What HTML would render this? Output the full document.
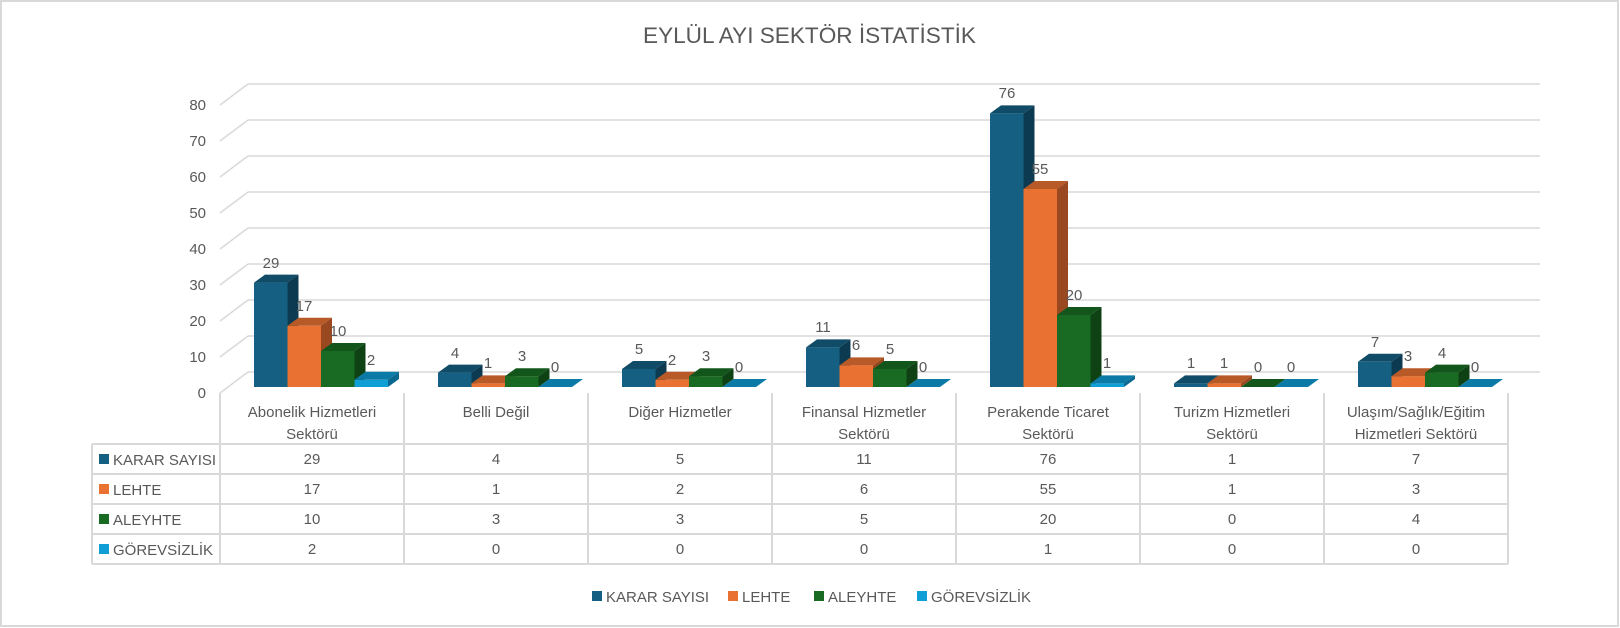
<!DOCTYPE html>
<html><head><meta charset="utf-8"><style>
html,body{margin:0;padding:0;background:#fff;}
svg{display:block;}
text{font-family:"Liberation Sans",sans-serif;fill:#595959;}
</style></head><body>
<svg width="1620" height="628" viewBox="0 0 1620 628" xmlns="http://www.w3.org/2000/svg">
<rect x="1" y="1" width="1617" height="625" fill="#fff" stroke="#d9d9d9" stroke-width="2"/>
<text x="643" y="43" font-size="22" textLength="333" lengthAdjust="spacingAndGlyphs">EYLÜL AYI SEKTÖR İSTATİSTİK</text>
<g stroke="#d9d9d9" stroke-width="1.5" fill="none">
<path d="M248 84H1540M248 120H1540M248 156H1540M248 192H1540M248 228H1540M248 264H1540M248 300H1540M248 336H1540M248 372H1540"/>
<path d="M220 105L248 84M220 141L248 120M220 177L248 156M220 213L248 192M220 249L248 228M220 285L248 264M220 321L248 300M220 357L248 336M220 393L248 372"/>
</g>
<g font-size="15" text-anchor="end">
<text x="206" y="110">80</text><text x="206" y="146">70</text><text x="206" y="182">60</text><text x="206" y="218">50</text><text x="206" y="254">40</text><text x="206" y="290">30</text><text x="206" y="326">20</text><text x="206" y="362">10</text><text x="206" y="398">0</text>
</g>
<!-- bars -->
<g>
<!-- cat0 -->
<g transform="translate(254,282.6)"><rect width="33.5" height="104.4" fill="#156082"/><polygon points="0,0 11,-8 44.5,-8 33.5,0" fill="#104b67"/><polygon points="33.5,0 44.5,-8 44.5,96.4 33.5,104.4" fill="#0c3b51"/></g>
<g transform="translate(287.5,325.8)"><rect width="33.5" height="61.2" fill="#E97132"/><polygon points="0,0 11,-8 44.5,-8 33.5,0" fill="#b85a27"/><polygon points="33.5,0 44.5,-8 44.5,53.2 33.5,61.2" fill="#9a4820"/></g>
<g transform="translate(321,351)"><rect width="33.5" height="36" fill="#196B24"/><polygon points="0,0 11,-8 44.5,-8 33.5,0" fill="#13561c"/><polygon points="33.5,0 44.5,-8 44.5,28 33.5,36" fill="#0e4215"/></g>
<g transform="translate(354.5,379.8)"><rect width="33.5" height="7.2" fill="#0F9ED5"/><polygon points="0,0 11,-8 44.5,-8 33.5,0" fill="#0c7aa6"/><polygon points="33.5,0 44.5,-8 44.5,-0.8 33.5,7.2" fill="#0a6890"/></g>
<!-- cat1 -->
<g transform="translate(438,372.6)"><rect width="33.5" height="14.4" fill="#156082"/><polygon points="0,0 11,-8 44.5,-8 33.5,0" fill="#104b67"/><polygon points="33.5,0 44.5,-8 44.5,6.4 33.5,14.4" fill="#0c3b51"/></g>
<g transform="translate(471.5,383.4)"><rect width="33.5" height="3.6" fill="#E97132"/><polygon points="0,0 11,-8 44.5,-8 33.5,0" fill="#b85a27"/><polygon points="33.5,0 44.5,-8 44.5,-4.4 33.5,3.6" fill="#9a4820"/></g>
<g transform="translate(505,376.2)"><rect width="33.5" height="10.8" fill="#196B24"/><polygon points="0,0 11,-8 44.5,-8 33.5,0" fill="#13561c"/><polygon points="33.5,0 44.5,-8 44.5,2.8 33.5,10.8" fill="#0e4215"/></g>
<g transform="translate(538.5,387)"><polygon points="0,0 11,-8 44.5,-8 33.5,0" fill="#0c7aa6"/></g>
<!-- cat2 -->
<g transform="translate(622,369)"><rect width="33.5" height="18" fill="#156082"/><polygon points="0,0 11,-8 44.5,-8 33.5,0" fill="#104b67"/><polygon points="33.5,0 44.5,-8 44.5,10 33.5,18" fill="#0c3b51"/></g>
<g transform="translate(655.5,379.8)"><rect width="33.5" height="7.2" fill="#E97132"/><polygon points="0,0 11,-8 44.5,-8 33.5,0" fill="#b85a27"/><polygon points="33.5,0 44.5,-8 44.5,-0.8 33.5,7.2" fill="#9a4820"/></g>
<g transform="translate(689,376.2)"><rect width="33.5" height="10.8" fill="#196B24"/><polygon points="0,0 11,-8 44.5,-8 33.5,0" fill="#13561c"/><polygon points="33.5,0 44.5,-8 44.5,2.8 33.5,10.8" fill="#0e4215"/></g>
<g transform="translate(722.5,387)"><polygon points="0,0 11,-8 44.5,-8 33.5,0" fill="#0c7aa6"/></g>
<!-- cat3 -->
<g transform="translate(806,347.4)"><rect width="33.5" height="39.6" fill="#156082"/><polygon points="0,0 11,-8 44.5,-8 33.5,0" fill="#104b67"/><polygon points="33.5,0 44.5,-8 44.5,31.6 33.5,39.6" fill="#0c3b51"/></g>
<g transform="translate(839.5,365.4)"><rect width="33.5" height="21.6" fill="#E97132"/><polygon points="0,0 11,-8 44.5,-8 33.5,0" fill="#b85a27"/><polygon points="33.5,0 44.5,-8 44.5,13.6 33.5,21.6" fill="#9a4820"/></g>
<g transform="translate(873,369)"><rect width="33.5" height="18" fill="#196B24"/><polygon points="0,0 11,-8 44.5,-8 33.5,0" fill="#13561c"/><polygon points="33.5,0 44.5,-8 44.5,10 33.5,18" fill="#0e4215"/></g>
<g transform="translate(906.5,387)"><polygon points="0,0 11,-8 44.5,-8 33.5,0" fill="#0c7aa6"/></g>
<!-- cat4 -->
<g transform="translate(990,113.4)"><rect width="33.5" height="273.6" fill="#156082"/><polygon points="0,0 11,-8 44.5,-8 33.5,0" fill="#104b67"/><polygon points="33.5,0 44.5,-8 44.5,265.6 33.5,273.6" fill="#0c3b51"/></g>
<g transform="translate(1023.5,189)"><rect width="33.5" height="198" fill="#E97132"/><polygon points="0,0 11,-8 44.5,-8 33.5,0" fill="#b85a27"/><polygon points="33.5,0 44.5,-8 44.5,190 33.5,198" fill="#9a4820"/></g>
<g transform="translate(1057,315)"><rect width="33.5" height="72" fill="#196B24"/><polygon points="0,0 11,-8 44.5,-8 33.5,0" fill="#13561c"/><polygon points="33.5,0 44.5,-8 44.5,64 33.5,72" fill="#0e4215"/></g>
<g transform="translate(1090.5,383.4)"><rect width="33.5" height="3.6" fill="#0F9ED5"/><polygon points="0,0 11,-8 44.5,-8 33.5,0" fill="#0c7aa6"/><polygon points="33.5,0 44.5,-8 44.5,-4.4 33.5,3.6" fill="#0a6890"/></g>
<!-- cat5 -->
<g transform="translate(1174,383.4)"><rect width="33.5" height="3.6" fill="#156082"/><polygon points="0,0 11,-8 44.5,-8 33.5,0" fill="#104b67"/><polygon points="33.5,0 44.5,-8 44.5,-4.4 33.5,3.6" fill="#0c3b51"/></g>
<g transform="translate(1207.5,383.4)"><rect width="33.5" height="3.6" fill="#E97132"/><polygon points="0,0 11,-8 44.5,-8 33.5,0" fill="#b85a27"/><polygon points="33.5,0 44.5,-8 44.5,-4.4 33.5,3.6" fill="#9a4820"/></g>
<g transform="translate(1241,387)"><polygon points="0,0 11,-8 44.5,-8 33.5,0" fill="#13561c"/></g>
<g transform="translate(1274.5,387)"><polygon points="0,0 11,-8 44.5,-8 33.5,0" fill="#0c7aa6"/></g>
<!-- cat6 -->
<g transform="translate(1358,361.8)"><rect width="33.5" height="25.2" fill="#156082"/><polygon points="0,0 11,-8 44.5,-8 33.5,0" fill="#104b67"/><polygon points="33.5,0 44.5,-8 44.5,17.2 33.5,25.2" fill="#0c3b51"/></g>
<g transform="translate(1391.5,376.2)"><rect width="33.5" height="10.8" fill="#E97132"/><polygon points="0,0 11,-8 44.5,-8 33.5,0" fill="#b85a27"/><polygon points="33.5,0 44.5,-8 44.5,2.8 33.5,10.8" fill="#9a4820"/></g>
<g transform="translate(1425,372.6)"><rect width="33.5" height="14.4" fill="#196B24"/><polygon points="0,0 11,-8 44.5,-8 33.5,0" fill="#13561c"/><polygon points="33.5,0 44.5,-8 44.5,6.4 33.5,14.4" fill="#0e4215"/></g>
<g transform="translate(1458.5,387)"><polygon points="0,0 11,-8 44.5,-8 33.5,0" fill="#0c7aa6"/></g>
</g>
<!-- data labels -->
<g font-size="15" text-anchor="middle">
<text x="271" y="268">29</text><text x="304" y="311">17</text><text x="338" y="336">10</text><text x="371" y="365">2</text>
<text x="455" y="358">4</text><text x="488" y="368">1</text><text x="522" y="361">3</text><text x="555" y="372">0</text>
<text x="639" y="354">5</text><text x="672" y="365">2</text><text x="706" y="361">3</text><text x="739" y="372">0</text>
<text x="823" y="332">11</text><text x="856" y="350">6</text><text x="890" y="354">5</text><text x="923" y="372">0</text>
<text x="1007" y="98">76</text><text x="1040" y="174">55</text><text x="1074" y="300">20</text><text x="1107" y="368">1</text>
<text x="1191" y="368">1</text><text x="1224" y="368">1</text><text x="1258" y="372">0</text><text x="1291" y="372">0</text>
<text x="1375" y="347">7</text><text x="1408" y="361">3</text><text x="1442" y="358">4</text><text x="1475" y="372">0</text>
</g>
<!-- table -->
<g stroke="#d9d9d9" stroke-width="2" fill="none">
<path d="M220 393V564M404 393V564M588 393V564M772 393V564M956 393V564M1140 393V564M1324 393V564M1508 393V564M92 444V564"/>
<path d="M92 444H1508M92 474H1508M92 504H1508M92 534H1508M92 564H1508"/>
</g>
<g font-size="15" text-anchor="middle">
<text x="312" y="417">Abonelik Hizmetleri</text><text x="312" y="439">Sektörü</text>
<text x="496" y="417">Belli Değil</text>
<text x="680" y="417">Diğer Hizmetler</text>
<text x="864" y="417">Finansal Hizmetler</text><text x="864" y="439">Sektörü</text>
<text x="1048" y="417">Perakende Ticaret</text><text x="1048" y="439">Sektörü</text>
<text x="1232" y="417">Turizm Hizmetleri</text><text x="1232" y="439">Sektörü</text>
<text x="1416" y="417">Ulaşım/Sağlık/Eğitim</text><text x="1416" y="439">Hizmetleri Sektörü</text>
</g>
<g font-size="15" text-anchor="middle">
<text x="312" y="464">29</text><text x="496" y="464">4</text><text x="680" y="464">5</text><text x="864" y="464">11</text><text x="1048" y="464">76</text><text x="1232" y="464">1</text><text x="1416" y="464">7</text>
<text x="312" y="494">17</text><text x="496" y="494">1</text><text x="680" y="494">2</text><text x="864" y="494">6</text><text x="1048" y="494">55</text><text x="1232" y="494">1</text><text x="1416" y="494">3</text>
<text x="312" y="524">10</text><text x="496" y="524">3</text><text x="680" y="524">3</text><text x="864" y="524">5</text><text x="1048" y="524">20</text><text x="1232" y="524">0</text><text x="1416" y="524">4</text>
<text x="312" y="554">2</text><text x="496" y="554">0</text><text x="680" y="554">0</text><text x="864" y="554">0</text><text x="1048" y="554">1</text><text x="1232" y="554">0</text><text x="1416" y="554">0</text>
</g>
<rect x="99" y="454" width="10" height="10" fill="#156082"/><text x="113" y="465" font-size="15">KARAR SAYISI</text>
<rect x="99" y="484" width="10" height="10" fill="#E97132"/><text x="113" y="495" font-size="15">LEHTE</text>
<rect x="99" y="514" width="10" height="10" fill="#196B24"/><text x="113" y="525" font-size="15">ALEYHTE</text>
<rect x="99" y="544" width="10" height="10" fill="#0F9ED5"/><text x="113" y="555" font-size="15">GÖREVSİZLİK</text>
<!-- legend -->
<g font-size="15">
<rect x="592" y="591" width="10" height="10" fill="#156082"/><text x="606" y="602">KARAR SAYISI</text>
<rect x="728" y="591" width="10" height="10" fill="#E97132"/><text x="742" y="602">LEHTE</text>
<rect x="814" y="591" width="10" height="10" fill="#196B24"/><text x="828" y="602">ALEYHTE</text>
<rect x="917" y="591" width="10" height="10" fill="#0F9ED5"/><text x="931" y="602">GÖREVSİZLİK</text>
</g>
</svg>
</body></html>
